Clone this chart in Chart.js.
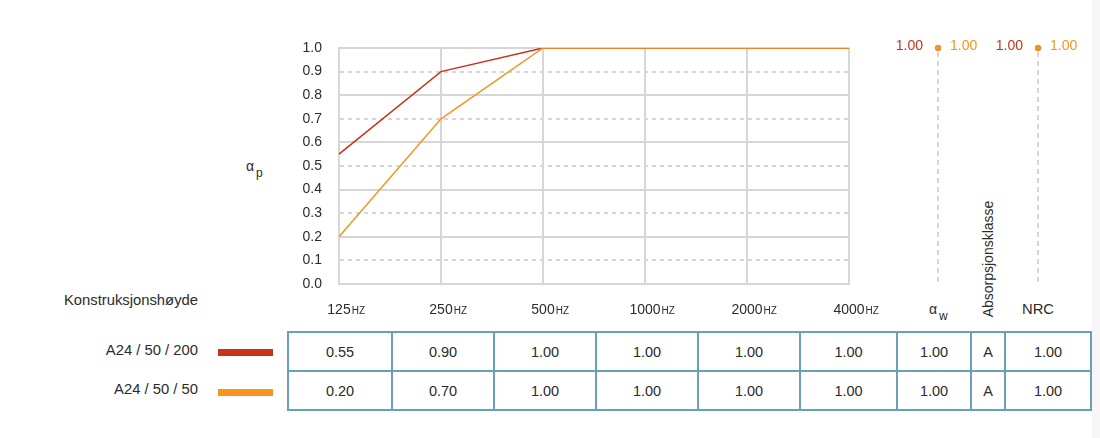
<!DOCTYPE html>
<html>
<head>
<meta charset="utf-8">
<script src="https://cdn.jsdelivr.net/npm/chart.js@4/dist/chart.umd.min.js"></script>
<style>
    body {
        margin: 0;
        width: 1100px;
        height: 438px;
        background: #fff;
        font-family: "Liberation Sans", Arial, sans-serif;
        color: #2b2b2b;
        position: relative;
        overflow: hidden;
    }
    canvas { position: absolute; top: 0; }
    #ageChart { left: 0; }
    #sideChart { left: 884px; }
    .t { position: absolute; font-size: 14px; line-height: 14px; white-space: nowrap; }
    .big { font-size: 14.8px; }
    .sub { position: absolute; font-size: 12px; line-height: 12px; }
    .right { text-align: right; }
    .bar { position: absolute; left: 218px; width: 55px; height: 7px; }
    #table {
        position: absolute;
        left: 287px;
        top: 331px;
        display: grid;
        grid-template-columns: 102px 100px 100px 100px 100px 95px 72px 32px 84px;
        grid-template-rows: 37px 37px;
        gap: 2px;
        padding: 2px;
        background: #6a9fba;
    }
    #table div {
        background: #fff;
        font-size: 14.5px;
        display: flex;
        align-items: center;
        justify-content: center;
    }
    #strip { position: absolute; left: 1092px; top: 0; width: 8px; height: 438px; background: #f6f6f6; }
</style>
</head>
<body>

<div class="t" style="left:246px;top:159px;">α</div>
<div class="sub" style="left:256px;top:167px;">p</div>

<div class="t big right" style="right:902px;top:293px;">Konstruksjonshøyde</div>
<div class="t big right" id="name0" style="right:902px;top:343px;"></div>
<div class="t big right" id="name1" style="right:902px;top:382px;"></div>
<div class="bar" id="bar0" style="top:349px;"></div>
<div class="bar" id="bar1" style="top:389px;"></div>

<div class="t" style="left:929px;top:302px;">α</div>
<div class="sub" style="left:939px;top:310px;">w</div>
<div class="t" style="left:988px;top:259px;transform:translate(-50%,-50%) rotate(-90deg);">Absorpsjonsklasse</div>
<div class="t big" style="left:1022px;top:302px;">NRC</div>

<div id="table"></div>
<div id="strip"></div>

<canvas id="ageChart" width="1100" height="438"></canvas>
<canvas id="sideChart" width="216" height="438"></canvas>

<script>
    const frequencies = ['125', '250', '500', '1000', '2000', '4000'];
    const unit = 'Hz';
    const yTicks = [0, 0.1, 0.2, 0.3, 0.4, 0.5, 0.6, 0.7, 0.8, 0.9, 1.0];

    const seriesNames = ['A24 / 50 / 200', 'A24 / 50 / 50'];
    const seriesColors = ['#c8321a', '#f7941d'];
    const alphaP200 = [0.55, 0.90, 1.00, 1.00, 1.00, 1.00];
    const alphaP50 = [0.20, 0.70, 1.00, 1.00, 1.00, 1.00];

    const sideLabels = ['αw', 'NRC'];
    const sideValues200 = [1.00, 1.00];
    const sideValues50 = [1.00, 1.00];
    const absClass = ['A', 'A'];

    const textColor = '#2b2b2b',
        gridColor = '#d6d6d6',
        font = {family: '"Liberation Sans", Arial, sans-serif', size: 14};

    // legend and table
    const rows = [
        [...alphaP200, sideValues200[0]],
        [...alphaP50, sideValues50[0]]
    ];
    const table = document.getElementById('table');
    rows.forEach((row, i) => {
        document.getElementById('name' + i).innerText = seriesNames[i];
        document.getElementById('bar' + i).style.background = seriesColors[i];
        const cells = [...row.map(v => v.toFixed(2)), absClass[i], [sideValues200, sideValues50][i][1].toFixed(2)];
        for (let c of cells) {
            const cell = document.createElement('div');
            cell.innerText = c;
            table.appendChild(cell);
        }
    });

    const freqLabels = {
        id: 'freqLabels',
        afterDraw(chart) {
            const {ctx, scales: {x}} = chart;
            ctx.save();
            ctx.fillStyle = textColor;
            ctx.textBaseline = 'alphabetic';
            frequencies.forEach((f, i) => {
                const px = x.getPixelForValue(i);
                ctx.font = `14px ${font.family}`;
                const w = ctx.measureText(f).width;
                ctx.textAlign = 'center';
                ctx.fillText(f, px, 314);
                ctx.font = `10px ${font.family}`;
                ctx.textAlign = 'left';
                ctx.fillText(unit.toUpperCase(), px + w / 2 + 1, 314);
            });
            ctx.restore();
        }
    };

    new Chart(document.getElementById('ageChart'), {
        type: 'line',
        data: {
            labels: frequencies,
            datasets: [{
                label: seriesNames[0],
                data: alphaP200,
                borderColor: seriesColors[0],
                borderWidth: 1.5,
                order: 1
            }, {
                label: seriesNames[1],
                data: alphaP50,
                borderColor: seriesColors[1],
                borderWidth: 1.5,
                order: 0
            }]
        },
        options: {
            responsive: false,
            animation: false,
            layout: {padding: {left: 299, right: 251, top: 48, bottom: 154}},
            elements: {point: {radius: 0}, line: {tension: 0}},
            plugins: {legend: {display: false}, tooltip: {enabled: false}},
            scales: {
                x: {
                    offset: false,
                    ticks: {display: false},
                    grid: {color: gridColor, lineWidth: 2, drawTicks: false},
                    border: {color: gridColor, width: 2},
                    afterFit: s => { s.height = 0 }
                },
                y: {
                    min: 0,
                    max: 1,
                    afterBuildTicks: s => { s.ticks = yTicks.map(value => ({value})) },
                    ticks: {
                        color: textColor,
                        font,
                        padding: 17,
                        callback: v => v.toFixed(1)
                    },
                    grid: {color: gridColor, lineWidth: 2, drawTicks: false},
                    border: {
                        color: gridColor,
                        width: 2,
                        dash: c => (c.tick && Math.round(c.tick.value * 10) % 2 === 1) ? [4, 4] : []
                    },
                    afterFit: s => { s.width = 40 }
                }
            }
        },
        plugins: [freqLabels]
    });

    const sideMarks = {
        id: 'sideMarks',
        beforeDatasetsDraw(chart) {
            const {ctx, scales: {x, y}} = chart;
            ctx.save();
            ctx.strokeStyle = '#c8c8c8';
            ctx.lineWidth = 1.5;
            ctx.setLineDash([5, 4]);
            sideLabels.forEach((l, i) => {
                const px = x.getPixelForValue(i);
                ctx.beginPath();
                ctx.moveTo(px, y.getPixelForValue(sideValues50[i]) + 4);
                ctx.lineTo(px, 282);
                ctx.stroke();
            });
            ctx.restore();
        },
        afterDatasetsDraw(chart) {
            const {ctx, scales: {x, y}} = chart;
            ctx.save();
            ctx.font = `14px ${font.family}`;
            ctx.textBaseline = 'middle';
            sideLabels.forEach((l, i) => {
                const px = x.getPixelForValue(i);
                ctx.fillStyle = seriesColors[0];
                ctx.textAlign = 'right';
                ctx.fillText(sideValues200[i].toFixed(2), px - 15, y.getPixelForValue(sideValues200[i]) - 2);
                ctx.fillStyle = seriesColors[1];
                ctx.textAlign = 'left';
                ctx.fillText(sideValues50[i].toFixed(2), px + 12, y.getPixelForValue(sideValues50[i]) - 2);
            });
            ctx.restore();
        }
    };

    new Chart(document.getElementById('sideChart'), {
        type: 'line',
        data: {
            labels: sideLabels,
            datasets: [{
                data: sideValues200,
                showLine: false,
                clip: false,
                pointRadius: 3,
                pointBackgroundColor: seriesColors[0],
                pointBorderWidth: 0,
                order: 1
            }, {
                data: sideValues50,
                showLine: false,
                clip: false,
                pointRadius: 3,
                pointBackgroundColor: seriesColors[1],
                pointBorderWidth: 0,
                order: 0
            }]
        },
        options: {
            responsive: false,
            animation: false,
            layout: {padding: {left: 0, right: 12, top: 48, bottom: 154}},
            plugins: {legend: {display: false}, tooltip: {enabled: false}},
            scales: {
                x: {display: false, offset: true},
                y: {display: false, min: 0, max: 1}
            }
        },
        plugins: [sideMarks]
    });
</script>
</body>
</html>
